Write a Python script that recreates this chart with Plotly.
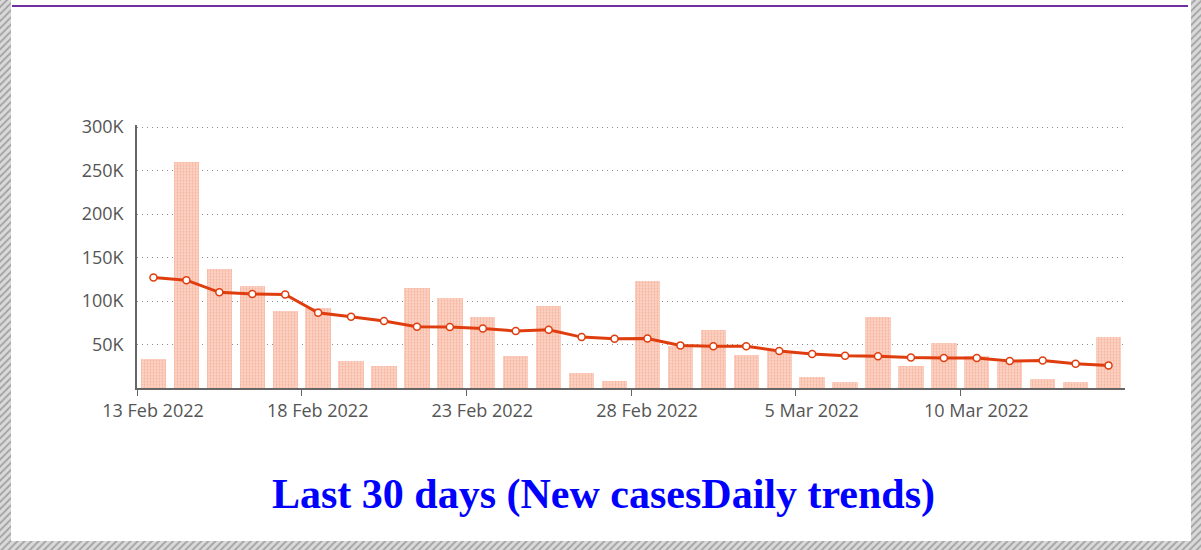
import pandas as pd
import plotly.graph_objects as go

# daily new cases (bars) and 7 day trend (line), 13 Feb - 14 Mar 2022
start_day = "2022-02-13"
new_cases = [33000, 259000, 137000, 117000, 88000, 92000, 31000, 25000, 115000, 103000,
             81000, 37000, 94000, 17000, 8000, 123000, 48000, 66000, 38000, 42000,
             12000, 6000, 81000, 25000, 51000, 37000, 30000, 10000, 6000, 58000]
trend = [127000, 124000, 110000, 108000, 107500, 86500, 82000, 77000, 70500, 70000,
         68500, 65500, 67000, 58500, 56500, 57000, 49000, 48000, 48000, 42500,
         39000, 37000, 36500, 35000, 34500, 34500, 31000, 31500, 28000, 26000]
y_ticks = [50000, 100000, 150000, 200000, 250000, 300000]
y_labels = ["50K", "100K", "150K", "200K", "250K", "300K"]
x_ticks = ["2022-02-13", "2022-02-18", "2022-02-23", "2022-02-28", "2022-03-05", "2022-03-10"]
x_labels = ["13 Feb 2022", "18 Feb 2022", "23 Feb 2022", "28 Feb 2022", "5 Mar 2022", "10 Mar 2022"]
title_text = "Last 30 days (New casesDaily trends)"

days = pd.date_range(start_day, periods=len(new_cases)) + pd.Timedelta(hours=12)
line_col = "#e03d0e"
W, H = 1201, 550

fig = go.Figure()
fig.add_trace(go.Bar(
    x=days, y=new_cases, width=0.77 * 86400000,
    marker=dict(color="#fbcdbf", line_width=0,
                pattern=dict(shape=".", fgcolor="#f3916f", bgcolor="#fcd8cc", size=3, solidity=0.45)),
))
fig.add_trace(go.Scatter(
    x=days, y=trend, mode="lines+markers",
    line=dict(color=line_col, width=3),
    marker=dict(size=7, color="white", line=dict(color=line_col, width=1.5)),
))

# hatched page border, drawn on an overlay axis in pixel units
hatch = dict(shape="/", fgcolor="#6a6a6a", bgcolor="#dadada", size=5, solidity=0.35)
for xs, ys in [([0, 11, 11, 0], [0, 0, H, H]),
               ([1191, W, W, 1191], [0, 0, H, H]),
               ([0, W, W, 0], [541, 541, H, H])]:
    fig.add_trace(go.Scatter(x=xs, y=ys, xaxis="x2", yaxis="y2", fill="toself", mode="none",
                             fillcolor="#dadada", fillpattern=hatch, hoverinfo="skip"))

fig.add_shape(type="line", xref="paper", yref="paper", x0=12 / W, x1=1188 / W,
              y0=1 - 6 / H, y1=1 - 6 / H, line=dict(color="#7030a0", width=2))

fig.add_annotation(text="<b>" + title_text + "</b>", xref="paper", yref="paper",
                   x=603 / W, y=1 - 494 / H, showarrow=False, yanchor="middle",
                   font=dict(family="Liberation Serif", size=42, color="#0000ff"))

fig.update_layout(
    width=W, height=H, showlegend=False, bargap=0,
    plot_bgcolor="rgba(0,0,0,0)", paper_bgcolor="white",
    margin=dict(l=0, r=0, t=0, b=0, autoexpand=False),
    font=dict(family="Open Sans", size=18, color="#555555"),
    xaxis=dict(
        type="date", domain=[137 / W, 1125 / W], automargin=False,
        range=["2022-02-13", "2022-03-15"],
        tickmode="array", tickvals=x_ticks, ticktext=x_labels, ticklabelshift=16,
        ticks="outside", ticklen=6, tickcolor="#666666",
        showline=True, linecolor="#666666", linewidth=1.5, showgrid=False, zeroline=False,
    ),
    yaxis=dict(
        domain=[1 - 388 / H, 1 - 125.3 / H], range=[0, 302000], automargin=False,
        tickmode="array", tickvals=y_ticks, ticktext=y_labels, ticklabelstandoff=8,
        showline=True, linecolor="#666666", linewidth=1.5,
        showgrid=True, gridcolor="#8a8a8a", griddash="1px,4px", gridwidth=1, zeroline=False,
    ),
    xaxis2=dict(domain=[0, 1], anchor="y2", range=[0, W], visible=False, fixedrange=True,
                automargin=False),
    yaxis2=dict(domain=[0, 1], anchor="x2", range=[H, 0], visible=False, fixedrange=True,
                automargin=False),
)

fig.write_html("out.html", config={"displayModeBar": False},
               post_script="document.body.style.margin = '0';")
